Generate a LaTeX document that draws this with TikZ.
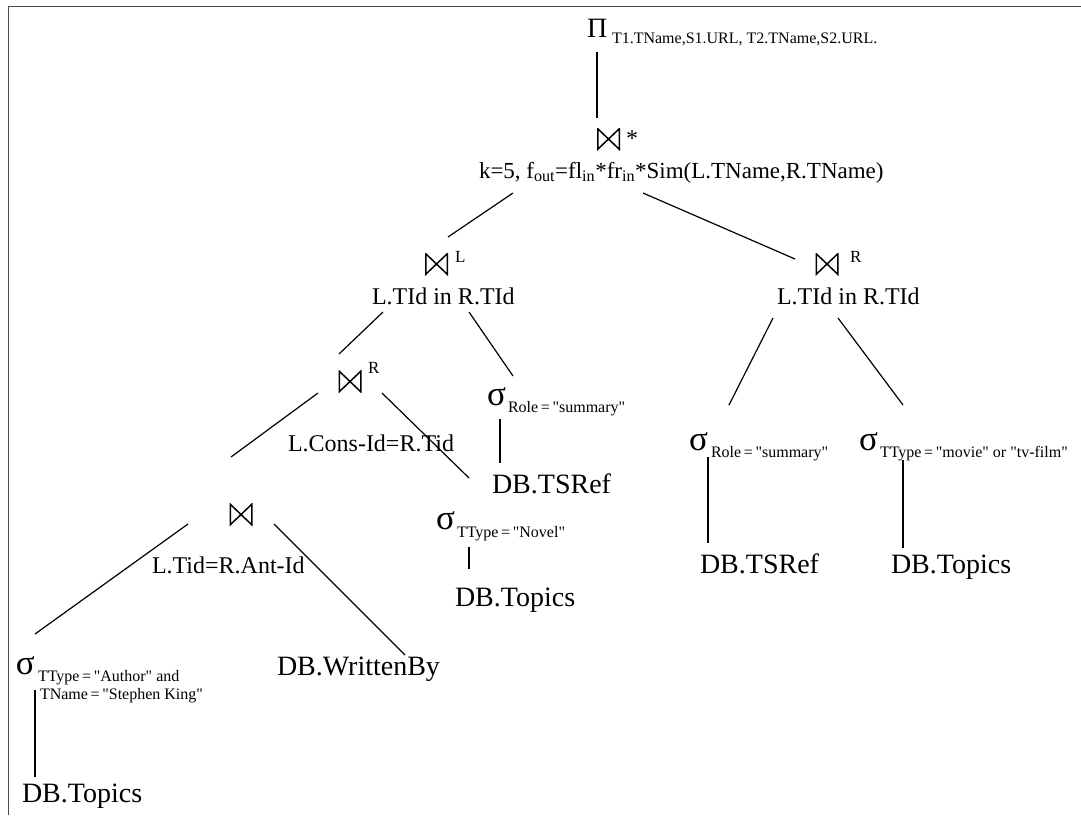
\documentclass[tikz,border=0pt]{standalone}
\usepackage{fontspec}
\setmainfont{Liberation Serif}
% a second family for labels that keep straight double quotes
\newfontfamily\plainserif{Liberation Serif}
\tikzset{
  txt/.style={inner sep=0pt, outer sep=0pt, anchor=base west},
  cond/.style={txt, font=\fontsize{24}{28}\selectfont},
  rel/.style={txt, font=\fontsize{28}{32}\selectfont},
  sub/.style={txt, font=\plainserif\fontsize{16}{18}\selectfont},
  sup/.style={txt, font=\fontsize{17}{19}\selectfont},
  sig/.style={txt, font=\fontsize{35}{38}\selectfont},
  bowtie/.style={rectangle, inner sep=0pt, outer sep=0pt, anchor=center,
    minimum width=23pt, minimum height=22pt,
    path picture={
      \draw[line width=1.5pt, line join=miter]
        ([shift={(0.75pt,0.75pt)}]path picture bounding box.south west)
        -- ([shift={(-0.75pt,-0.75pt)}]path picture bounding box.north east)
        -- ([shift={(-0.75pt,0.75pt)}]path picture bounding box.south east)
        -- ([shift={(0.75pt,-0.75pt)}]path picture bounding box.north west)
        -- cycle;
    }},
  edge/.style={line width=1.2pt, black},
  frame/.style={line width=1.6pt, black!70},
}
\begin{document}
\begin{tikzpicture}[x=1pt,y=-1pt]
\useasboundingbox (0,0) rectangle (1081,815);
% page frame (top and left rules)
\draw[frame] (8.5,815) -- (8.5,6.5) -- (1081,6.5);

% projection
\node[txt, font=\fontsize{28}{32}\selectfont] (pi) at (587,37) {Π};
\node[sub] (pisub) at (612,43) {T1.TName,S1.URL, T2.TName,S2.URL.};

% top similarity join
\node[bowtie] (jtop) at (608.5,139) {};
\node[cond] (jtopstar) at (626,146) {*};
\node[cond, font=\fontsize{23}{27}\selectfont] (jtopcond) at (479,178) {k=5, f\textsubscript{out}=fl\textsubscript{in}*fr\textsubscript{in}*Sim(L.TName,R.TName)};

% left semi-join
\node[bowtie] (jl) at (436.5,264) {};
\node[sup] (jlsup) at (455,262) {L};
\node[cond] (jlcond) at (372,304) {L.TId in R.TId};

% right semi-join below it
\node[bowtie] (jlr) at (350,381.5) {};
\node[sup] (jlrsup) at (368,373) {R};
\node[cond] (jlrcond) at (288,451) {L.Cons-Id=R.Tid};

% selection on role
\node[sig] (s1) at (487,405) {σ};
\node[sub] (s1sub) at (508,412) {Role\,=\,"summary"};
\node[rel] (tsref1) at (492,493) {DB.TSRef};

% selection on novels
\node[sig] (s2) at (436,529) {σ};
\node[sub] (s2sub) at (457,537) {TType\,=\,"Novel"};
\node[rel] (topics1) at (455,606) {DB.Topics};

% bottom join
\node[bowtie] (jb) at (241,514.5) {};
\node[cond] (jbcond) at (152,573) {L.Tid=R.Ant-Id};
\node[rel] (writtenby) at (277,675) {DB.WrittenBy};

% selection on author
\node[sig] (s3) at (16,674) {σ};
\node[sub] (s3suba) at (38,681) {TType\,=\,"Author" and};
\node[sub] (s3subb) at (40,699) {TName\,=\,"Stephen King"};
\node[rel] (topics2) at (22,802) {DB.Topics};

% right-hand semi-join
\node[bowtie] (jr) at (827,264) {};
\node[sup] (jrsup) at (850,262) {R};
\node[cond] (jrcond) at (777,304) {L.TId in R.TId};

\node[sig] (s4) at (689,450) {σ};
\node[sub] (s4sub) at (711,457) {Role\,=\,"summary"};
\node[rel] (tsref2) at (700,573) {DB.TSRef};

\node[sig] (s5) at (859,450) {σ};
\node[sub] (s5sub) at (880,457) {TType\,=\,"movie" or "tv-film"};
\node[rel] (topics3) at (891,573) {DB.Topics};

% tree edges
\draw[edge] ([shift={(10,15)}]pi.base west) -- ([shift={(-11.5,-21)}]jtop.center);
\draw[edge] ([shift={(34,15)}]jtopcond.base west) -- ([shift={(11.5,-27)}]jl.center);
\draw[edge] ([shift={(164,15)}]jtopcond.base west) -- ([shift={(-32,-5)}]jr.center);

\draw[edge] ([shift={(11,8)}]jlcond.base west) -- ([shift={(-11,-27.5)}]jlr.center);
\draw[edge] ([shift={(97,8)}]jlcond.base west) -- ([shift={(26,-29)}]s1.base west);

\draw[edge] ([shift={(-32,11.5)}]jlr.center) -- ([shift={(-10,-57.5)}]jb.center);
\draw[edge] ([shift={(32,11.5)}]jlr.center) -- ([shift={(33,-51)}]s2.base west);

\draw[edge] ([shift={(13,14)}]s1.base west) -- ([shift={(8,-30)}]tsref1.base west);
\draw[edge] ([shift={(33,18)}]s2.base west) -- ([shift={(14,-37)}]topics1.base west);

\draw[edge] ([shift={(-53,9.5)}]jb.center) -- ([shift={(19,-40)}]s3.base west);
\draw[edge] ([shift={(33,9.5)}]jb.center) -- ([shift={(128,-20)}]writtenby.base west);
\draw[edge] ([shift={(19,16)}]s3.base west) -- ([shift={(13,-25)}]topics2.base west);

\draw[edge] ([shift={(-4,14)}]jrcond.base west) -- ([shift={(40,-45)}]s4.base west);
\draw[edge] ([shift={(61,14)}]jrcond.base west) -- ([shift={(44,-45)}]s5.base west);
\draw[edge] ([shift={(19,7)}]s4.base west) -- ([shift={(8,-30)}]tsref2.base west);
\draw[edge] ([shift={(44,10)}]s5.base west) -- ([shift={(12,-25)}]topics3.base west);
\end{tikzpicture}
\end{document}
